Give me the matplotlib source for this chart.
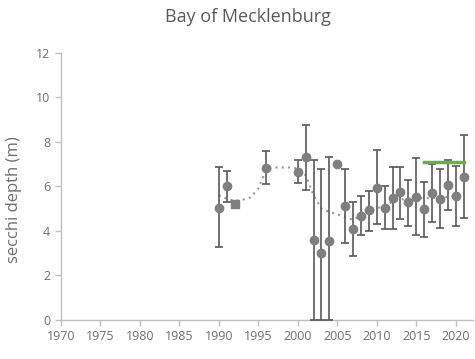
import matplotlib
matplotlib.use('Agg')
import matplotlib.pyplot as plt
import numpy as np

# annual mean secchi depth with error range (m)
years = [1990, 1991, 1996, 2000, 2001, 2002, 2003, 2004, 2006, 2007, 2008, 2009,
         2010, 2011, 2012, 2013, 2014, 2015, 2016, 2017, 2018, 2019, 2020, 2021]
depth = [5.05, 6.0, 6.83, 6.65, 7.3, 3.59, 2.99, 3.56, 5.11, 4.08, 4.66, 4.93,
         5.93, 5.04, 5.47, 5.74, 5.28, 5.5, 4.98, 5.71, 5.44, 6.04, 5.56, 6.43]
upper = [6.85, 6.7, 7.6, 7.2, 8.75, 7.17, 6.77, 7.32, 6.76, 5.32, 5.56, 5.8,
         7.62, 6.01, 6.85, 6.89, 6.28, 7.26, 6.19, 7.0, 6.77, 7.17, 6.93, 8.3]
lower = [3.3, 5.3, 6.1, 6.13, 5.83, 0.0, 0.0, 0.0, 3.47, 2.87, 3.81, 4.0,
         4.29, 4.07, 4.1, 4.54, 4.24, 3.8, 3.74, 4.39, 4.11, 4.96, 4.21, 4.59]

# single values without error range
single_year = [2005]
single_depth = [7.0]
square_year = [1992]
square_depth = [5.22]

# smoothed trend
trend_years = list(range(1990, 2022))
trend_vals = [5.6, 5.45, 5.35, 5.4, 5.5, 5.9, 6.75, 6.85, 6.85, 6.85, 6.8, 6.5,
              5.6, 5.0, 4.85, 4.75, 4.6, 4.5, 4.7, 4.85, 5.0, 5.15, 5.3, 5.4,
              5.45, 5.47, 5.47, 5.47, 5.5, 5.52, 5.6, 5.72]

# target level
target_years = [2016, 2021]
target_val = 7.1

TXT = '#6e6e6e'
AX = '#bfbfbf'

plt.rcParams['font.family'] = ['Open Sans', 'DejaVu Sans']

fig = plt.figure(figsize=(4.75, 3.59), dpi=100)
ax = fig.add_axes([0.128, 0.1086, 0.868, 0.7446])

d = np.array(depth)
yerr = [d - np.array(lower), np.array(upper) - d]
ax.errorbar(years, depth, yerr=yerr, fmt='o', color='#7f7f7f', ecolor='#595959',
            elinewidth=1.2, capsize=3, capthick=1.2, markersize=6, zorder=3)
ax.plot(single_year, single_depth, 'o', color='#7f7f7f', markersize=6, zorder=3)
ax.plot(square_year, square_depth, 's', color='#7f7f7f', markersize=5.5, zorder=3)
ax.plot(trend_years, trend_vals, linestyle=(0, (1, 2)), color='#999999', lw=1.5, zorder=2)
ax.plot(target_years, [target_val] * 2, color='#70ad47', lw=2.5, zorder=4)

ax.set_xlim(1970, 2022.2)
ax.set_ylim(0, 12)
ax.set_xticks(range(1970, 2021, 5))
ax.set_yticks(range(0, 13, 2))

for s in ['top', 'right']:
    ax.spines[s].set_visible(False)
for s in ['left', 'bottom']:
    ax.spines[s].set_color(AX)
    ax.spines[s].set_linewidth(1)
ax.tick_params(colors=AX, labelcolor=TXT, labelsize=9, length=4, width=1)

ax.set_ylabel('secchi depth (m)', color=TXT, fontsize=12)
ax.yaxis.set_label_coords(-0.095, 0.45)
fig.text(0.522, 0.953, 'Bay of Mecklenburg', ha='center', va='center',
         color='#595959', fontsize=13)

fig.savefig('out.png', dpi=100)
